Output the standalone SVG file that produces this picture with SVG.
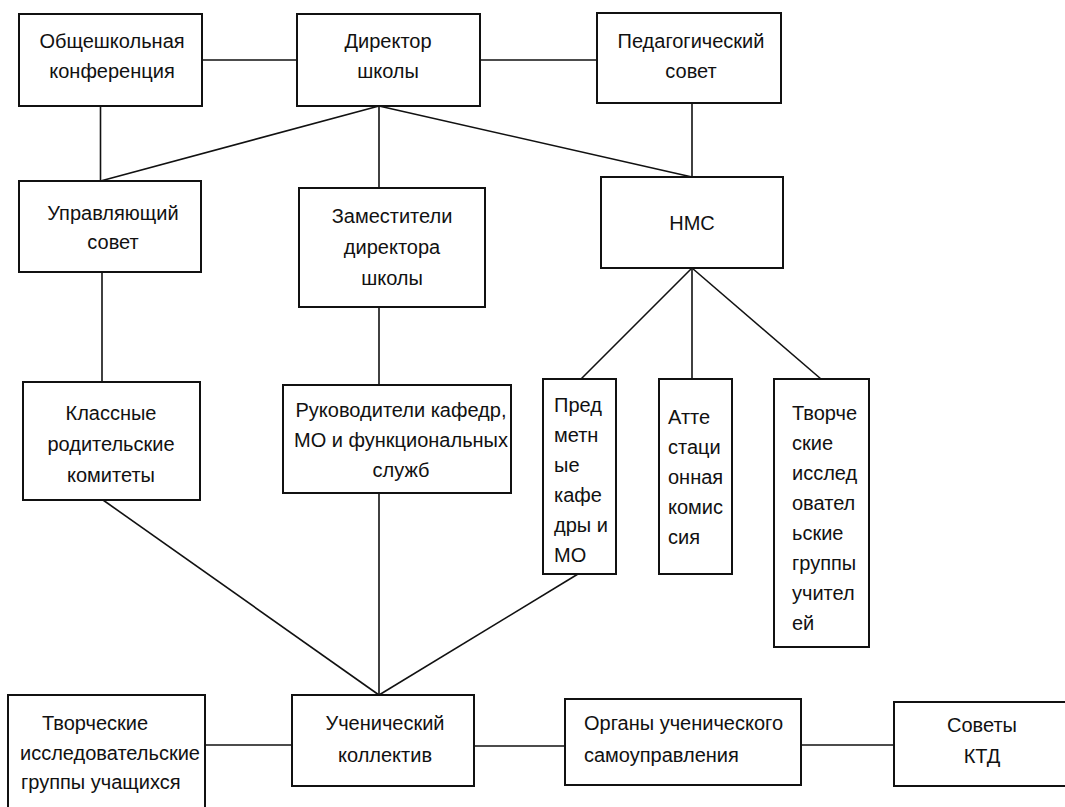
<svg xmlns="http://www.w3.org/2000/svg" width="1065" height="807" viewBox="0 0 1065 807">
<style>
.box{fill:#fff;stroke:#111;stroke-width:2}
.ln{stroke:#111;stroke-width:1.6;fill:none}
text{font-family:"Liberation Sans",Arial,sans-serif;font-size:20px;fill:#111}
.c{text-anchor:middle}
</style>
<rect width="1065" height="807" fill="#fff"/>
<g id="connectors">
<line class="ln" x1="202" y1="60" x2="297" y2="60"/>
<line class="ln" x1="480" y1="60" x2="597" y2="60"/>
<line class="ln" x1="100.5" y1="106" x2="100.5" y2="181"/>
<line class="ln" x1="379" y1="106" x2="100.5" y2="181"/>
<line class="ln" x1="379" y1="106" x2="379" y2="188"/>
<line class="ln" x1="379" y1="106" x2="692" y2="177"/>
<line class="ln" x1="692" y1="103" x2="692" y2="177"/>
<line class="ln" x1="102" y1="272" x2="102" y2="382"/>
<line class="ln" x1="379" y1="307" x2="379" y2="385"/>
<line class="ln" x1="692" y1="268" x2="581" y2="379"/>
<line class="ln" x1="692" y1="268" x2="692" y2="379"/>
<line class="ln" x1="692" y1="268" x2="821" y2="379"/>
<line class="ln" x1="103" y1="500" x2="379" y2="695"/>
<line class="ln" x1="379" y1="493" x2="379" y2="695"/>
<line class="ln" x1="578" y1="574" x2="379" y2="695"/>
<line class="ln" x1="205" y1="745" x2="292" y2="745"/>
<line class="ln" x1="474" y1="746" x2="565" y2="746"/>
<line class="ln" x1="801" y1="745" x2="894" y2="745"/>
</g>
<g id="n-conf">
<rect class="box" x="19" y="14" width="183" height="92"/>
<text class="c" x="112" y="48">Общешкольная</text>
<text class="c" x="112" y="78">конференция</text>
</g>
<g id="n-director">
<rect class="box" x="297" y="14" width="183" height="92"/>
<text class="c" x="388" y="48">Директор</text>
<text class="c" x="388" y="78">школы</text>
</g>
<g id="n-pedsovet">
<rect class="box" x="597" y="13" width="184" height="90"/>
<text class="c" x="691" y="48">Педагогический</text>
<text class="c" x="691" y="78">совет</text>
</g>
<g id="n-upr">
<rect class="box" x="19" y="181" width="182" height="91"/>
<text class="c" x="113" y="220">Управляющий</text>
<text class="c" x="113" y="249">совет</text>
</g>
<g id="n-zam">
<rect class="box" x="299" y="188" width="186" height="119"/>
<text class="c" x="392" y="223">Заместители</text>
<text class="c" x="392" y="254">директора</text>
<text class="c" x="392" y="285">школы</text>
</g>
<g id="n-nms">
<rect class="box" x="601" y="177" width="182" height="91"/>
<text class="c" x="692" y="230">НМС</text>
</g>
<g id="n-klass">
<rect class="box" x="23" y="382" width="177" height="118"/>
<text class="c" x="111" y="420">Классные</text>
<text class="c" x="111" y="451">родительские</text>
<text class="c" x="111" y="482">комитеты</text>
</g>
<g id="n-ruk">
<rect class="box" x="283" y="385" width="228" height="108"/>
<text class="c" x="401" y="417">Руководители кафедр,</text>
<text class="c" x="401" y="447">МО и функциональных</text>
<text class="c" x="401" y="477">служб</text>
</g>
<g id="n-pred">
<rect class="box" x="543" y="379" width="73" height="195"/>
<text x="554" y="412">Пред</text>
<text x="554" y="442">метн</text>
<text x="554" y="472">ые</text>
<text x="554" y="502">кафе</text>
<text x="554" y="532">дры и</text>
<text x="554" y="562">МО</text>
</g>
<g id="n-att">
<rect class="box" x="659" y="379" width="73" height="195"/>
<text x="668" y="424">Атте</text>
<text x="668" y="454">стаци</text>
<text x="668" y="484">онная</text>
<text x="668" y="514">комис</text>
<text x="668" y="544">сия</text>
</g>
<g id="n-tvor-uch">
<rect class="box" x="774" y="379" width="95" height="268"/>
<text x="792" y="420">Творче</text>
<text x="792" y="450">ские</text>
<text x="792" y="480">исслед</text>
<text x="792" y="510">овател</text>
<text x="792" y="540">ьские</text>
<text x="792" y="570">группы</text>
<text x="792" y="600">учител</text>
<text x="792" y="630">ей</text>
</g>
<g id="n-tvor-st">
<rect class="box" x="8" y="695" width="197" height="130"/>
<text x="42" y="730">Творческие</text>
<text x="20" y="760">исследовательские</text>
<text x="21" y="789">группы учащихся</text>
</g>
<g id="n-uchen">
<rect class="box" x="292" y="695" width="182" height="91"/>
<text class="c" x="385" y="730">Ученический</text>
<text class="c" x="385" y="762">коллектив</text>
</g>
<g id="n-organy">
<rect class="box" x="565" y="699" width="236" height="86"/>
<text x="584" y="730">Органы ученического</text>
<text x="584" y="762">самоуправления</text>
</g>
<g id="n-sovety">
<rect class="box" x="894" y="702" width="190" height="84"/>
<text class="c" x="982" y="732">Советы</text>
<text class="c" x="982" y="763">КТД</text>
</g>
</svg>
